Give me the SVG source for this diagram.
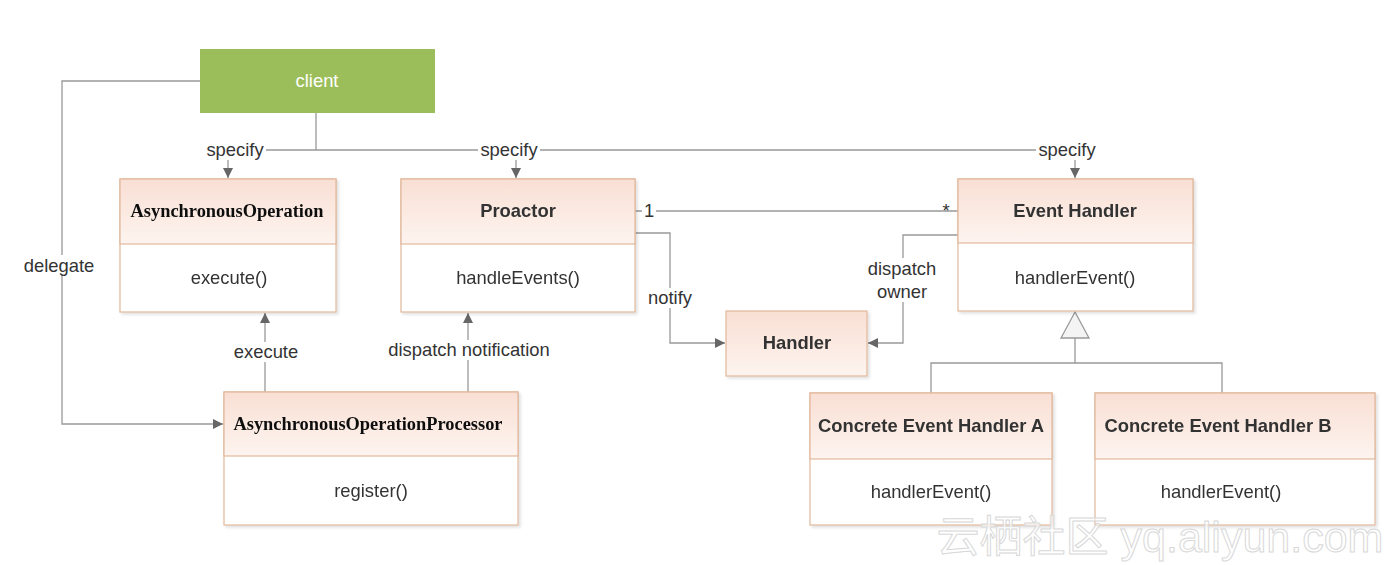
<svg xmlns="http://www.w3.org/2000/svg" width="1400" height="565" viewBox="0 0 1400 565">
<defs>
<linearGradient id="hdr" x1="0" y1="0" x2="0" y2="1">
<stop offset="0" stop-color="#F9DFD4"/>
<stop offset="1" stop-color="#FDF4EF"/>
</linearGradient>
<marker id="arr" viewBox="0 0 10 10" refX="10" refY="5" markerWidth="10" markerHeight="10" markerUnits="userSpaceOnUse" orient="auto">
<path d="M0,0 L10,5 L0,10 z" fill="#666"/>
</marker>
<filter id="sh" x="-5%" y="-5%" width="115%" height="115%">
<feDropShadow dx="2" dy="2" stdDeviation="1.5" flood-color="#000" flood-opacity="0.12"/>
</filter>
</defs>
<style>
.box{fill:#fff;stroke:#E2B89C;stroke-width:1.2}
.hdr{fill:url(#hdr);stroke:#E2B89C;stroke-width:1.2}
.t{font-family:"Liberation Sans",Arial,sans-serif;font-size:18.4px;fill:#333;text-anchor:middle}
.b{font-weight:bold}
.s{font-family:"Liberation Serif","Times New Roman",serif;font-weight:bold;font-size:18.4px;fill:#111;text-anchor:middle}
.ln{fill:none;stroke:#999;stroke-width:1.3}
.lbl{fill:#fff}
</style>
<rect width="1400" height="565" fill="#fff"/>

<g id="connectors">
<path class="ln" d="M316,113 V150 M228,150 H1075"/>
<path class="ln" d="M228,150 V178" marker-end="url(#arr)"/>
<path class="ln" d="M516,150 V178" marker-end="url(#arr)"/>
<path class="ln" d="M1075,150 V178" marker-end="url(#arr)"/>
<path class="ln" d="M200,81 H62 V424 H223" marker-end="url(#arr)"/>
<path class="ln" d="M265,392 V313" marker-end="url(#arr)"/>
<path class="ln" d="M468,392 V313" marker-end="url(#arr)"/>
<path class="ln" d="M635,211 H958"/>
<path class="ln" d="M635,233 H670 V343 H725" marker-end="url(#arr)"/>
<path class="ln" d="M958,235 H903 V343 H868" marker-end="url(#arr)"/>
<path class="ln" d="M1075,338 V363 M931,393 V363 H1222 V393"/>
<path d="M1075,312 L1089,338 L1061,338 z" fill="#f4f4f4" stroke="#999" stroke-width="1.3"/>
<rect class="lbl" x="204" y="140" width="62" height="20"/>
<text class="t" x="235" y="156">specify</text>
<rect class="lbl" x="478" y="140" width="62" height="20"/>
<text class="t" x="509" y="156">specify</text>
<rect class="lbl" x="1036" y="140" width="62" height="20"/>
<text class="t" x="1067" y="156">specify</text>
<rect class="lbl" x="20" y="255" width="78" height="20"/>
<text class="t" x="59" y="272">delegate</text>
<rect class="lbl" x="230" y="342" width="72" height="20"/>
<text class="t" x="266" y="358">execute</text>
<rect class="lbl" x="386" y="340" width="166" height="20"/>
<text class="t" x="469" y="356">dispatch notification</text>
<rect class="lbl" x="645" y="288" width="50" height="20"/>
<text class="t" x="670" y="304">notify</text>
<rect class="lbl" x="862" y="258" width="80" height="44"/>
<text class="t" x="902" y="275">dispatch</text>
<text class="t" x="902" y="298">owner</text>
<rect class="lbl" x="642" y="201" width="14" height="20"/>
<text class="t" x="649" y="217">1</text>
<text class="t" x="946" y="217">*</text>
</g>

<g id="client">
<rect x="200" y="49" width="235" height="64" fill="#9BBE5A"/>
<text class="t" x="317" y="87" style="fill:#fff">client</text>
</g>

<g id="asyncop" filter="url(#sh)">
<rect class="box" x="120" y="179" width="216" height="133"/>
<rect class="hdr" x="120" y="179" width="216" height="65"/>
<text class="s" x="227" y="217">AsynchronousOperation</text>
<text class="t" x="229" y="284">execute()</text>
</g>

<g id="proactor" filter="url(#sh)">
<rect class="box" x="401" y="179" width="234" height="133"/>
<rect class="hdr" x="401" y="179" width="234" height="65"/>
<text class="t b" x="518" y="217">Proactor</text>
<text class="t" x="518" y="284">handleEvents()</text>
</g>

<g id="eventhandler" filter="url(#sh)">
<rect class="box" x="958" y="179" width="235" height="132"/>
<rect class="hdr" x="958" y="179" width="235" height="64"/>
<text class="t b" x="1075" y="217">Event Handler</text>
<text class="t" x="1075" y="284">handlerEvent()</text>
</g>

<g id="handler" filter="url(#sh)">
<rect class="hdr" x="726" y="311" width="141" height="65"/>
<text class="t b" x="797" y="349">Handler</text>
</g>

<g id="asyncopproc" filter="url(#sh)">
<rect class="box" x="224" y="392" width="294" height="133"/>
<rect class="hdr" x="224" y="392" width="294" height="64"/>
<text class="s" x="368" y="430">AsynchronousOperationProcessor</text>
<text class="t" x="371" y="497">register()</text>
</g>

<g id="concreteA" filter="url(#sh)">
<rect class="box" x="810" y="393" width="242" height="132"/>
<rect class="hdr" x="810" y="393" width="242" height="66"/>
<text class="t b" x="931" y="432">Concrete Event Handler A</text>
<text class="t" x="931" y="498">handlerEvent()</text>
</g>

<g id="concreteB" filter="url(#sh)">
<rect class="box" x="1095" y="393" width="280" height="132"/>
<rect class="hdr" x="1095" y="393" width="280" height="66"/>
<text class="t b" x="1218" y="432">Concrete Event Handler B</text>
<text class="t" x="1221" y="498">handlerEvent()</text>
</g>

<g id="watermark">
<text x="1160" y="552" text-anchor="middle" font-family="'Liberation Sans','Noto Sans CJK SC',sans-serif" font-size="43" fill="#fff" fill-opacity="0.6" stroke="#d8d8d8" stroke-width="1">云栖社区 yq.aliyun.com</text>
</g>
</svg>
